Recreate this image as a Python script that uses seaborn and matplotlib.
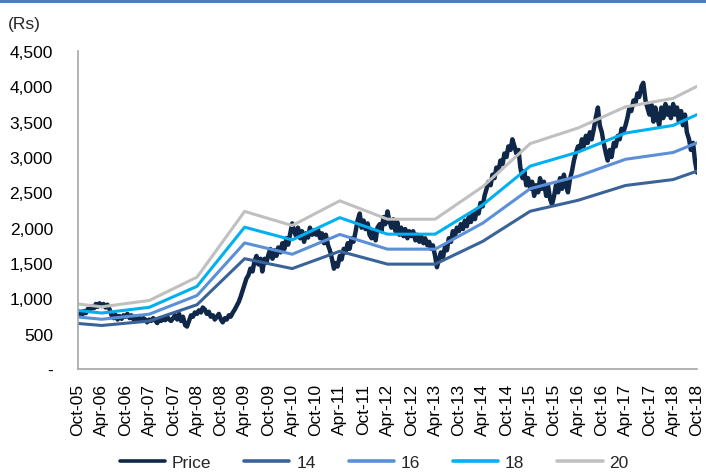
import numpy as np
import pandas as pd
import matplotlib
matplotlib.use("Agg")
import matplotlib.pyplot as plt
from matplotlib.ticker import FuncFormatter, MultipleLocator
from matplotlib.lines import Line2D
import seaborn as sns

# ---------------- data ----------------
price_start = "2005-10-01"          # semi-monthly observations
price = [
    770, 800, 760, 820, 790, 850, 830, 890, 860, 920, 880, 930, 890, 920, 870, 910, 840, 760, 720, 770, 700, 750, 710, 760,
    740, 780, 720, 760, 700, 740, 690, 730, 680, 720, 700, 660, 700, 680, 720, 690, 650, 700, 680, 720, 690, 740, 700, 680,
    720, 760, 700, 780, 680, 740, 620, 600, 690, 760, 740, 800, 780, 830, 800, 870, 840, 780, 810, 740, 760, 700, 740, 780,
    700, 660, 720, 700, 760, 740, 800, 840, 900, 950, 1020, 1100, 1200, 1280, 1330, 1420, 1380, 1520, 1600, 1480, 1560, 1380, 1560, 1500,
    1620, 1700, 1560, 1680, 1600, 1720, 1650, 1780, 1700, 1850, 1760, 1900, 2060, 1950, 1880, 2000, 1850, 1950, 1800, 1920, 1860, 2000, 1900, 1960,
    1900, 1980, 1850, 1920, 1780, 1900, 1750, 1680, 1550, 1420, 1500, 1450, 1600, 1550, 1700, 1650, 1780, 1700, 1850, 1800, 1950, 2100, 2200, 2000,
    2100, 1980, 2060, 1900, 1850, 1950, 1820, 2000, 2050, 1950, 2150, 2050, 2230, 2100, 2000, 2120, 1950, 2080, 1900, 2000, 1880, 1980, 1850, 1950,
    1880, 1950, 1820, 1900, 1800, 1880, 1780, 1850, 1750, 1800, 1700, 1750, 1600, 1440, 1550, 1650, 1580, 1720, 1680, 1850, 1800, 1950, 1880, 2000,
    1950, 2050, 1980, 2100, 2020, 2150, 2080, 2200, 2120, 2250, 2200, 2350, 2300, 2450, 2550, 2650, 2600, 2750, 2700, 2850, 2800, 2950, 2900, 3050,
    3000, 3150, 3100, 3250, 3150, 3050, 3100, 2850, 2700, 2800, 2600, 2700, 2550, 2650, 2450, 2600, 2500, 2700, 2550, 2650, 2450, 2600, 2400, 2330,
    2450, 2600, 2500, 2700, 2550, 2750, 2600, 2500, 2700, 2800, 2950, 3050, 3150, 3100, 3250, 3150, 3300, 3200, 3350, 3250, 3400, 3550, 3700, 3450,
    3350, 3200, 3050, 2950, 3100, 3000, 3200, 3150, 3300, 3250, 3400, 3350, 3450, 3550, 3700, 3650, 3800, 3750, 3900, 3850, 4000, 4050, 3800, 3700,
    3600, 3750, 3500, 3700, 3550, 3450, 3700, 3550, 3750, 3600, 3700, 3550, 3750, 3600, 3700, 3500, 3650, 3450, 3600, 3350, 3250, 3100, 3200, 2950, 2780,
]

band_dates = ["2005-10-01", "2006-04-01", "2007-04-01", "2008-04-01", "2009-04-01",
              "2010-04-01", "2011-04-01", "2012-04-01", "2013-04-01", "2014-04-01",
              "2015-04-01", "2016-04-01", "2017-04-01", "2018-04-01", "2018-10-01"]
band_14 = [644, 616, 679, 910, 1561, 1421, 1666, 1484, 1484, 1806, 2233, 2387, 2597, 2681, 2800]
band_16 = [736, 704, 776, 1040, 1784, 1624, 1904, 1696, 1696, 2064, 2552, 2728, 2968, 3064, 3200]
band_18 = [828, 792, 873, 1170, 2007, 1827, 2142, 1908, 1908, 2322, 2871, 3069, 3339, 3447, 3600]
band_20 = [920, 880, 970, 1300, 2230, 2030, 2380, 2120, 2120, 2580, 3190, 3410, 3710, 3830, 4000]

series_labels = ["Price", "14", "16", "18", "20"]
y_unit = "(Rs)"

# ---------------- style ----------------
sns.set_theme(style="white")
plt.rcParams['font.family'] = ['Liberation Sans', 'DejaVu Sans']

c_price = "#0f2748"
c_14 = "#3a6399"
c_16 = "#5b90d8"
c_18 = "#00b0f0"
c_20 = "#c0c0c0"
axis_col = "#a6a6a6"
fs = 12.5

fig = plt.figure(figsize=(7.06, 4.77), dpi=100)
ax = fig.add_axes([78 / 706, 1 - 370 / 477, 619 / 706, 318 / 477])

price_dates = pd.date_range(price_start, periods=len(price), freq="SMS")
bd = pd.to_datetime(band_dates)

sns.lineplot(x=price_dates, y=price, ax=ax, color=c_price, lw=3.2, label=series_labels[0])
sns.lineplot(x=bd, y=band_14, ax=ax, color=c_14, lw=2.2, label=series_labels[1])
sns.lineplot(x=bd, y=band_16, ax=ax, color=c_16, lw=2.2, label=series_labels[2])
sns.lineplot(x=bd, y=band_18, ax=ax, color=c_18, lw=2.2, label=series_labels[3])
sns.lineplot(x=bd, y=band_20, ax=ax, color=c_20, lw=2.2, label=series_labels[4])

handles, labels = ax.get_legend_handles_labels()
if ax.get_legend() is not None:
    ax.get_legend().remove()

ax.set_xlim(price_dates[0], price_dates[-1])
ax.set_ylim(0, 4500)
ax.yaxis.set_major_locator(MultipleLocator(500))
ax.yaxis.set_major_formatter(FuncFormatter(lambda v, p: "-" if v == 0 else f"{v:,.0f}"))

xt = pd.date_range("2005-10-01", "2018-10-01", freq="6MS")
ax.set_xticks(xt)
ax.set_xticklabels([d.strftime("%b-%y") for d in xt], rotation=90)
ax.set_xlabel("")
ax.set_ylabel("")

for s in ["top", "right"]:
    ax.spines[s].set_visible(False)
for s in ["left", "bottom"]:
    ax.spines[s].set_color(axis_col)
    ax.spines[s].set_linewidth(1.2)

ax.tick_params(axis="both", direction="out", length=4, width=1.2, color=axis_col,
               labelsize=fs, labelcolor="black")
ax.tick_params(axis="y", pad=14)
ax.tick_params(axis="x", pad=6)
ax.grid(False)

leg = fig.legend(handles, labels, loc="center", bbox_to_anchor=(0.530, 0.029), ncol=5,
                 frameon=False, handlelength=2.6, handletextpad=0.4, columnspacing=1.9,
                 fontsize=fs)
for lh in leg.get_lines():
    lh.set_linewidth(2.6)

fig.text(8 / 706, 1 - 25 / 477, y_unit, fontsize=fs, va="center", ha="left")
fig.add_artist(Line2D([0, 1], [1 - 1.5 / 477] * 2, color="#4a7ebb", lw=2.2,
                      transform=fig.transFigure))

fig.savefig("out.png", dpi=100)
